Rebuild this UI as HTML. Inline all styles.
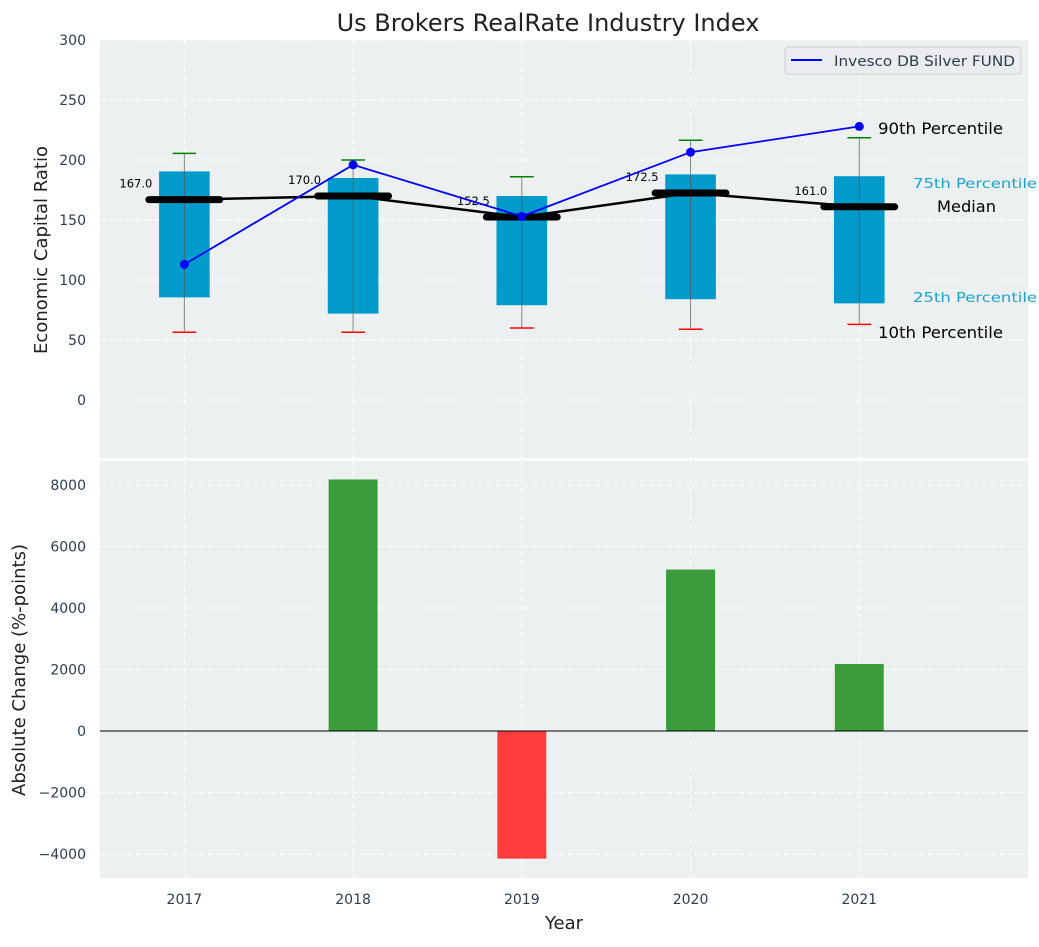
<!DOCTYPE html>
<html><head><meta charset="utf-8"><style>
body{margin:0;background:#fff;font-family:"Liberation Sans","DejaVu Sans",sans-serif}
svg text{font-family:"DejaVu Sans","Liberation Sans",sans-serif}
</style></head><body>
<svg id="c" width="1039" height="942" xmlns="http://www.w3.org/2000/svg"></svg>
<script>
const years=[2017,2018,2019,2020,2021];
const q1=[85.5,72,79,84,80.5];
const q3=[190.5,185,170,188,186.5];
const p10=[56.5,56.5,60,59,63];
const p90=[205.5,200,186,216.5,218.5];
const medians=[167,170,152.5,172.5,161];
const silver=[113,196,153,206.5,228];
const changes=[0,8180,-4150,5250,2180];
const topTicks=[0,50,100,150,200,250,300];
const botTicks=[-4000,-2000,0,2000,4000,6000,8000];

const NS="http://www.w3.org/2000/svg",svg=document.getElementById('c');
function mk(t,a,p){const e=document.createElementNS(NS,t);for(const k in a)e.setAttribute(k,a[k]);(p||svg).appendChild(e);return e;}
const L=100,R=1028;
const X=v=>L+(v-2016.5)*(R-L)/5.5;
const YT=v=>400-v*1.2;
const YB=v=>731-v*0.03075;

let e=mk('rect',{x:L,y:40,width:R-L,height:418,fill:'#ecf0f1'});

e=mk('rect',{x:L,y:461,width:R-L,height:417,fill:'#ecf0f1'});


years.forEach(y=>{[[40,458],[461,878]].forEach(r=>{mk('line',{x1:X(y),x2:X(y),y1:r[0],y2:r[1],stroke:'#fff','stroke-dasharray':'5,4','stroke-width':1});});});
topTicks.forEach(t=>{mk('line',{x1:L,x2:R,y1:YT(t),y2:YT(t),stroke:'#fff','stroke-dasharray':'5,4'});
 e=mk('text',{x:86,y:YT(t)+5,'text-anchor':'end','font-size':14,fill:'#2c3e50'});e.textContent=t;
 });
botTicks.forEach(t=>{mk('line',{x1:L,x2:R,y1:YB(t),y2:YB(t),stroke:'#fff','stroke-dasharray':'5,4'});
 e=mk('text',{x:86,y:YB(t)+5,'text-anchor':'end','font-size':14,fill:'#2c3e50'});e.textContent=(t<0?'\u2212'+(-t):t);
 });
years.forEach(y=>{e=mk('text',{x:X(y),y:904,'text-anchor':'middle','font-size':14,fill:'#2c3e50'});e.textContent=y;
 });

const bw=0.3*(R-L)/5.5, mw=0.42*(R-L)/5.5, cw=0.14*(R-L)/5.5;
years.forEach((y,i)=>{const x=X(y);
 e=mk('rect',{x:x-bw/2,y:YT(q3[i]),width:bw,height:YT(q1[i])-YT(q3[i]),fill:'#009bcb'});
 
 mk('line',{x1:x,x2:x,y1:YT(p90[i]),y2:YT(p10[i]),stroke:'#555','stroke-opacity':0.7,'stroke-width':1});
 e=mk('line',{x1:x-cw/2,x2:x+cw/2,y1:YT(p90[i]),y2:YT(p90[i]),stroke:'green','stroke-width':1.5});
 
 e=mk('line',{x1:x-cw/2,x2:x+cw/2,y1:YT(p10[i]),y2:YT(p10[i]),stroke:'red','stroke-width':1.5});
 
});
e=mk('polyline',{points:years.map((y,i)=>X(y)+','+YT(medians[i])).join(' '),fill:'none',stroke:'#000','stroke-width':2.5});

years.forEach((y,i)=>{const x=X(y);
 e=mk('line',{x1:x-mw/2,x2:x+mw/2,y1:YT(medians[i]),y2:YT(medians[i]),stroke:'#000','stroke-width':7,'stroke-linecap':'round'});
 
 e=mk('text',{x:x-32,y:YT(medians[i])-12,'text-anchor':'end','font-size':11.5,fill:'#000'});e.textContent=medians[i].toFixed(1);
 
});
e=mk('polyline',{points:years.map((y,i)=>X(y)+','+YT(silver[i])).join(' '),fill:'none',stroke:'#0000ff','stroke-width':1.8});

years.forEach((y,i)=>{e=mk('circle',{cx:X(y),cy:YT(silver[i]),r:4.5,fill:'#0000ff'});
 });

const ann=[[878,134,'90th Percentile',16,'#000',125],[913,188,'75th Percentile',13,'#1aa3d0',124],[937,212,'Median',16,'#000',59],[913,302,'25th Percentile',13,'#1aa3d0',124],[878,338,'10th Percentile',16,'#000',125]];
ann.forEach(a=>{e=mk('text',{x:a[0],y:a[1],'font-size':a[3],fill:a[4],textLength:a[5],lengthAdjust:'spacingAndGlyphs'});e.textContent=a[2];
 });

const lg=mk('g',{});
mk('rect',{x:785,y:47,width:236,height:27,rx:3,fill:'#eaecef',stroke:'#d0d0d0'},lg);
mk('line',{x1:791,x2:822,y1:60,y2:60,stroke:'#0000ff','stroke-width':2},lg);
e=mk('text',{x:834,y:66,'font-size':14,fill:'#2c3e50',textLength:181,lengthAdjust:'spacingAndGlyphs'},lg);e.textContent='Invesco DB Silver FUND';

const barw=0.29*(R-L)/5.5;
years.forEach((y,i)=>{const v=changes[i];if(!v)return;
 e=mk('rect',{x:X(y)-barw/2,y:Math.min(YB(v),YB(0)),width:barw,height:Math.abs(YB(v)-YB(0)),fill:v>0?'#3a9c3a':'#ff3b3b'});
 });
mk('line',{x1:L,x2:R,y1:YB(0),y2:YB(0),stroke:'#000','stroke-width':1});

e=mk('text',{x:548,y:31,'text-anchor':'middle','font-size':24,fill:'#222'});e.textContent='Us Brokers RealRate Industry Index';

e=mk('text',{x:0,y:0,'text-anchor':'middle','font-size':18,fill:'#222',transform:'translate(47,250) rotate(-90)'});e.textContent='Economic Capital Ratio';

e=mk('text',{x:0,y:0,'text-anchor':'middle','font-size':18,fill:'#222',transform:'translate(25,670) rotate(-90)'});e.textContent='Absolute Change (%-points)';

e=mk('text',{x:564,y:929,'text-anchor':'middle','font-size':18,fill:'#222'});e.textContent='Year';

</script>
</body></html>
